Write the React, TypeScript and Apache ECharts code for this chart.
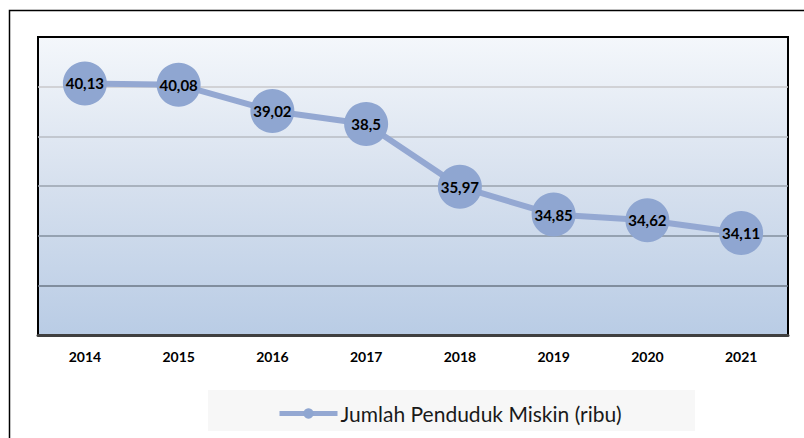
import React, { useEffect, useRef } from "react";
import * as echarts from "echarts";

const years = ["2014", "2015", "2016", "2017", "2018", "2019", "2020", "2021"];
const poorPopulation = [40.13, 40.08, 39.02, 38.5, 35.97, 34.85, 34.62, 34.11];
const seriesName = "Jumlah Penduduk Miskin (ribu)";

export default function App() {
  const ref = useRef<HTMLDivElement>(null);
  useEffect(() => {
    document.body.style.margin = "0";
    const chart = echarts.init(ref.current!, null, { renderer: "svg" });
    chart.setOption({
      animation: false,
      backgroundColor: "#ffffff",
      grid: {
        left: 38,
        top: 37,
        width: 750,
        height: 298,
        show: true,
        borderColor: "#000",
        borderWidth: 2,
        backgroundColor: new echarts.graphic.LinearGradient(0, 0, 0, 1, [
          { offset: 0, color: "#f4f7fb" },
          { offset: 0.5, color: "#d6e0ee" },
          { offset: 1, color: "#b9cce5" },
        ]),
      },
      graphic: [
        {
          type: "rect",
          z: -10,
          shape: { x: 9.5, y: 10.5, width: 900, height: 500 },
          style: { fill: "none", stroke: "#000", lineWidth: 1.5 },
        },
        {
          type: "rect",
          z: -5,
          shape: { x: 208, y: 390, width: 487, height: 41 },
          style: { fill: "#f7f7f7" },
        },
      ],
      legend: {
        left: 272,
        top: 398,
        itemWidth: 58,
        itemHeight: 13,
        itemGap: 4,
        lineStyle: { width: 5 },
        textStyle: { fontFamily: "Lato", fontSize: 21, color: "#1a1a1a", padding: [0, 0, 0, -2] },
        data: [seriesName],
      },
      xAxis: {
        type: "category",
        data: years,
        boundaryGap: true,
        axisLine: { show: true, lineStyle: { color: "#404040", width: 3 } },
        axisTick: { show: false },
        axisLabel: {
          margin: 14,
          fontFamily: "Lato",
          fontWeight: "bold",
          fontSize: 14,
          color: "#000",
        },
      },
      yAxis: {
        type: "value",
        min: 30,
        max: 42,
        interval: 2,
        axisLabel: { show: false },
        axisLine: { show: false },
        axisTick: { show: false },
        splitLine: {
          show: true,
          lineStyle: {
            width: 1.5,
            color: ["#404040", "#6b7786", "#838f9e", "#9aa3ae", "#b9bdc3", "#c8c9cb", "#000"],
          },
        },
      },
      series: [
        {
          name: seriesName,
          type: "line",
          data: poorPopulation,
          symbol: "circle",
          symbolSize: 44,
          lineStyle: { width: 6, color: "#94a8d2" },
          itemStyle: { color: "#8fa6d1" },
          label: {
            show: true,
            position: "inside",
            fontFamily: "Lato",
            fontWeight: "bold",
            fontSize: 15,
            color: "#000",
            formatter: (p: any) => String(p.value).replace(".", ","),
          },
        },
      ],
    });
    return () => chart.dispose();
  }, []);
  return <div ref={ref} style={{ width: 804, height: 438 }} />;
}
